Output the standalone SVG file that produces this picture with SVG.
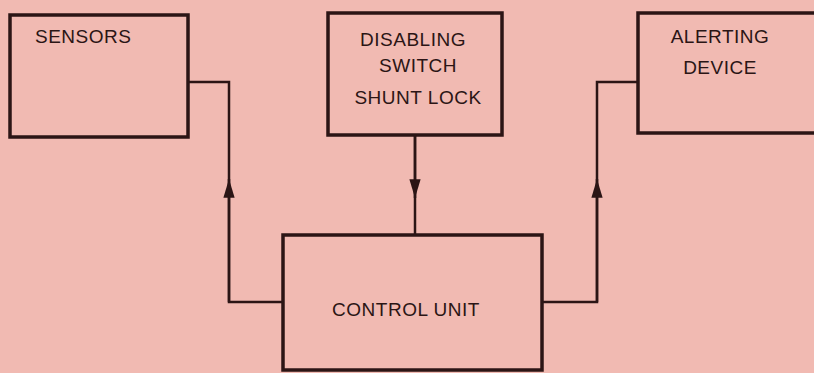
<svg xmlns="http://www.w3.org/2000/svg" width="814" height="373" viewBox="0 0 814 373">
<style>
.box{fill:none;stroke:#2b1515;stroke-width:3.5}
.ln{fill:none;stroke:#2b1515;stroke-width:2.5}
.t{font-family:"Liberation Sans",Arial,sans-serif;font-size:19px;fill:#2b1515;letter-spacing:0.5px}
</style>
<defs>
<marker id="ah" viewBox="0 0 10 6" refX="10" refY="3" markerWidth="7.5" markerHeight="4.5" markerUnits="strokeWidth" orient="auto">
<path d="M0,0 L10,3 L0,6 z" fill="#2b1515"/>
</marker>
</defs>
<rect width="814" height="373" fill="#f1bab2"/>
<g id="sensors">
<rect class="box" x="10" y="15" width="178" height="122"/>
<text class="t" x="35" y="43">SENSORS</text>
</g>
<g id="disabling">
<rect class="box" x="328" y="13" width="174" height="122"/>
<text class="t" x="413" y="46" text-anchor="middle">DISABLING</text>
<text class="t" x="418" y="72" text-anchor="middle">SWITCH</text>
<text class="t" x="418" y="104" text-anchor="middle">SHUNT LOCK</text>
</g>
<g id="alerting">
<rect class="box" x="638" y="13" width="180" height="120"/>
<text class="t" x="720" y="43" text-anchor="middle">ALERTING</text>
<text class="t" x="720" y="74" text-anchor="middle">DEVICE</text>
</g>
<g id="control">
<rect class="box" x="283" y="235" width="259" height="135"/>
<text class="t" x="406" y="316" text-anchor="middle">CONTROL UNIT</text>
</g>
<g id="connectors">
<path class="ln" d="M283,302 H229 V82 H188"/>
<path class="ln" d="M229,302 V179" marker-end="url(#ah)"/>
<path class="ln" d="M415,135 V235"/>
<path class="ln" d="M415,135 V198" marker-end="url(#ah)"/>
<path class="ln" d="M542,302 H597 V82 H638"/>
<path class="ln" d="M597,302 V179" marker-end="url(#ah)"/>
</g>
</svg>
